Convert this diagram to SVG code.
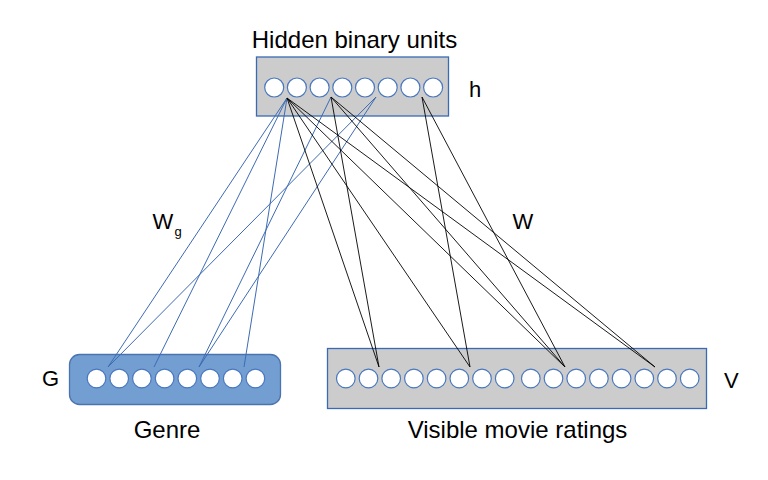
<svg xmlns="http://www.w3.org/2000/svg" width="768" height="480" viewBox="0 0 768 480">
<style>
text{font-family:"Liberation Sans",Arial,sans-serif;font-size:22px;fill:#000}
.lbl{font-size:24px}
.box{fill:#cccccc;stroke:#3a6ab4;stroke-width:1.3}
.gbox{fill:#729ed2;stroke:#4b74ae;stroke-width:1.3}
.u{fill:#fff;stroke:#4a78bf;stroke-width:1.2}
.bl{stroke:#3d6bb3;stroke-width:1;fill:none}
.bk{stroke:#000;stroke-width:0.9;fill:none}
</style>
<rect width="768" height="480" fill="#fff"/>
<g id="hidden">
<rect class="box" x="256.5" y="57" width="192" height="59"/>
<circle class="u" cx="274.2" cy="87.5" r="9.5"/>
<circle class="u" cx="296.9" cy="87.5" r="9.5"/>
<circle class="u" cx="319.6" cy="87.5" r="9.5"/>
<circle class="u" cx="342.3" cy="87.5" r="9.5"/>
<circle class="u" cx="365" cy="87.5" r="9.5"/>
<circle class="u" cx="387.7" cy="87.5" r="9.5"/>
<circle class="u" cx="410.4" cy="87.5" r="9.5"/>
<circle class="u" cx="433.1" cy="87.5" r="9.5"/>
<text class="lbl" x="354.5" y="48" text-anchor="middle">Hidden binary units</text>
<text x="469" y="97">h</text>
</g>
<g id="genre">
<rect class="gbox" x="69.5" y="354.5" width="211" height="50" rx="10"/>
<circle class="u" cx="96.5" cy="378.5" r="9.3"/>
<circle class="u" cx="119.2" cy="378.5" r="9.3"/>
<circle class="u" cx="141.9" cy="378.5" r="9.3"/>
<circle class="u" cx="164.6" cy="378.5" r="9.3"/>
<circle class="u" cx="187.3" cy="378.5" r="9.3"/>
<circle class="u" cx="210" cy="378.5" r="9.3"/>
<circle class="u" cx="232.7" cy="378.5" r="9.3"/>
<circle class="u" cx="255.4" cy="378.5" r="9.3"/>
<text x="42" y="386">G</text>
<text class="lbl" x="167" y="438" text-anchor="middle">Genre</text>
</g>
<g id="visible">
<rect class="box" x="327.5" y="348.5" width="379" height="60"/>
<circle class="u" cx="345.8" cy="378.5" r="9.3"/>
<circle class="u" cx="368.5" cy="378.5" r="9.3"/>
<circle class="u" cx="391.2" cy="378.5" r="9.3"/>
<circle class="u" cx="413.9" cy="378.5" r="9.3"/>
<circle class="u" cx="436.6" cy="378.5" r="9.3"/>
<circle class="u" cx="459.3" cy="378.5" r="9.3"/>
<circle class="u" cx="482" cy="378.5" r="9.3"/>
<circle class="u" cx="504.7" cy="378.5" r="9.3"/>
<circle class="u" cx="530.8" cy="378.5" r="9.3"/>
<circle class="u" cx="553.5" cy="378.5" r="9.3"/>
<circle class="u" cx="576.2" cy="378.5" r="9.3"/>
<circle class="u" cx="598.9" cy="378.5" r="9.3"/>
<circle class="u" cx="621.6" cy="378.5" r="9.3"/>
<circle class="u" cx="644.3" cy="378.5" r="9.3"/>
<circle class="u" cx="667" cy="378.5" r="9.3"/>
<circle class="u" cx="689.7" cy="378.5" r="9.3"/>
<text x="724" y="388">V</text>
<text class="lbl" x="517.5" y="437.5" text-anchor="middle">Visible movie ratings</text>
</g>
<g id="connectors">
<line class="bl" x1="287" y1="98" x2="108" y2="367"/>
<line class="bl" x1="287" y1="98" x2="154" y2="367"/>
<line class="bl" x1="287" y1="98" x2="244" y2="367"/>
<line class="bl" x1="331" y1="97" x2="199" y2="367"/>
<line class="bl" x1="376" y1="97" x2="108" y2="367"/>
<line class="bl" x1="376" y1="97" x2="199" y2="367"/>
<line class="bk" x1="287" y1="98" x2="379" y2="367"/>
<line class="bk" x1="287" y1="98" x2="470" y2="367"/>
<line class="bk" x1="287" y1="98" x2="565" y2="367"/>
<line class="bk" x1="287" y1="98" x2="655" y2="367"/>
<line class="bk" x1="331" y1="97" x2="379" y2="367"/>
<line class="bk" x1="331" y1="97" x2="565" y2="367"/>
<line class="bk" x1="331" y1="97" x2="655" y2="367"/>
<line class="bk" x1="422" y1="97" x2="470" y2="367"/>
<line class="bk" x1="422" y1="97" x2="565" y2="367"/>
</g>
<g id="labels">
<text x="152.5" y="229">W</text>
<text x="174.5" y="236" style="font-size:13px">g</text>
<text x="512.5" y="229">W</text>
</g>
</svg>
